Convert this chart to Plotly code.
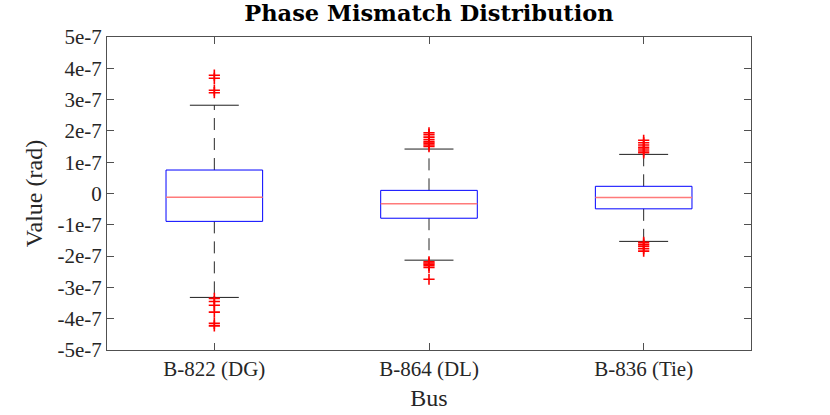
import plotly.graph_objects as go

# Box statistics (units of 1e-7 rad)
SCALE = 1e-7
categories = ["B-822 (DG)", "B-864 (DL)", "B-836 (Tie)"]
q1 = [-0.89, -0.79, -0.49]
median = [-0.12, -0.33, -0.13]
q3 = [0.75, 0.10, 0.23]
lower_whisker = [-3.32, -2.13, -1.53]
upper_whisker = [2.82, 1.42, 1.25]
outliers = [
    [3.22, 3.30, 3.68, 3.78, -3.35, -3.45, -3.57, -3.79, -4.15, -4.23],
    [1.50, 1.55, 1.60, 1.65, 1.72, 1.80, 1.88, 1.94, -2.18, -2.22, -2.26, -2.30, -2.36, -2.74],
    [1.30, 1.36, 1.42, 1.48, 1.55, 1.62, 1.70, -1.56, -1.62, -1.68, -1.76, -1.84],
]
ytick_vals = [-5, -4, -3, -2, -1, 0, 1, 2, 3, 4, 5]
ytick_labels = ["-5e-7", "-4e-7", "-3e-7", "-2e-7", "-1e-7", "0",
                "1e-7", "2e-7", "3e-7", "4e-7", "5e-7"]

BOX_HALF = 0.225
CAP_HALF = 0.114
FONT = "Liberation Serif"
AXIS_COLOR = "rgb(80,80,80)"

fig = go.Figure()

for i, name in enumerate(categories):
    c = i + 1
    lo, md, hi = q1[i] * SCALE, median[i] * SCALE, q3[i] * SCALE
    wl, wu = lower_whisker[i] * SCALE, upper_whisker[i] * SCALE

    # whiskers (dashed)
    for y0, y1 in [(hi, wu), (lo, wl)]:
        fig.add_trace(go.Scatter(
            x=[c, c], y=[y0, y1], mode="lines",
            line=dict(color="rgb(40,40,40)", width=1, dash="12px,8px"),
            hoverinfo="skip", showlegend=False))
    # caps
    for yv in [wu, wl]:
        fig.add_trace(go.Scatter(
            x=[c - CAP_HALF, c + CAP_HALF], y=[yv, yv], mode="lines",
            line=dict(color="rgb(30,30,30)", width=1),
            hoverinfo="skip", showlegend=False))
    # box
    fig.add_trace(go.Scatter(
        x=[c - BOX_HALF, c + BOX_HALF, c + BOX_HALF, c - BOX_HALF, c - BOX_HALF],
        y=[lo, lo, hi, hi, lo], mode="lines",
        line=dict(color="#0000ff", width=1),
        name=name, showlegend=False))
    # median
    fig.add_trace(go.Scatter(
        x=[c - BOX_HALF, c + BOX_HALF], y=[md, md], mode="lines",
        line=dict(color="#ff7a7a", width=1.5),
        hoverinfo="skip", showlegend=False))
    # outliers
    fig.add_trace(go.Scatter(
        x=[c] * len(outliers[i]), y=[v * SCALE for v in outliers[i]],
        mode="markers",
        marker=dict(symbol="cross-thin", size=8, line=dict(color="#ff0000", width=1.6)),
        showlegend=False))

fig.update_layout(
    width=830, height=415,
    margin=dict(l=107, r=79, t=37, b=65),
    paper_bgcolor="white", plot_bgcolor="white",
    font=dict(family=FONT, size=21, color="rgb(38,38,38)"),
    title=dict(
        text="<b>Phase Mismatch Distribution</b>",
        font=dict(family="DejaVu Serif", size=22.5, color="black"),
        x=0.5, xref="paper", xanchor="center",
        y=0.969, yref="container", yanchor="middle"),
    xaxis=dict(
        range=[0.5, 3.5], tickvals=[1, 2, 3], ticktext=categories,
        showgrid=False, zeroline=False, automargin=False,
        showline=True, linecolor=AXIS_COLOR, linewidth=1, mirror="ticks",
        ticks="inside", ticklen=7, tickcolor=AXIS_COLOR,
        tickfont=dict(family=FONT, size=21),
        title=dict(text="Bus", font=dict(family=FONT, size=24), standoff=8)),
    yaxis=dict(
        range=[-5 * SCALE, 5 * SCALE],
        tickvals=[v * SCALE for v in ytick_vals], ticktext=ytick_labels,
        showgrid=False, zeroline=False, automargin=False,
        showline=True, linecolor=AXIS_COLOR, linewidth=1, mirror="ticks",
        ticks="inside", ticklen=7, tickcolor=AXIS_COLOR,
        tickfont=dict(family=FONT, size=21),
        title=dict(text="Value (rad)", font=dict(family=FONT, size=24), standoff=8)),
)

# drop the browser's default 8px body margin so the figure sits at the page corner
fig.write_html("out.html", config={"displayModeBar": False},
               post_script="document.body.style.margin = '0';")
